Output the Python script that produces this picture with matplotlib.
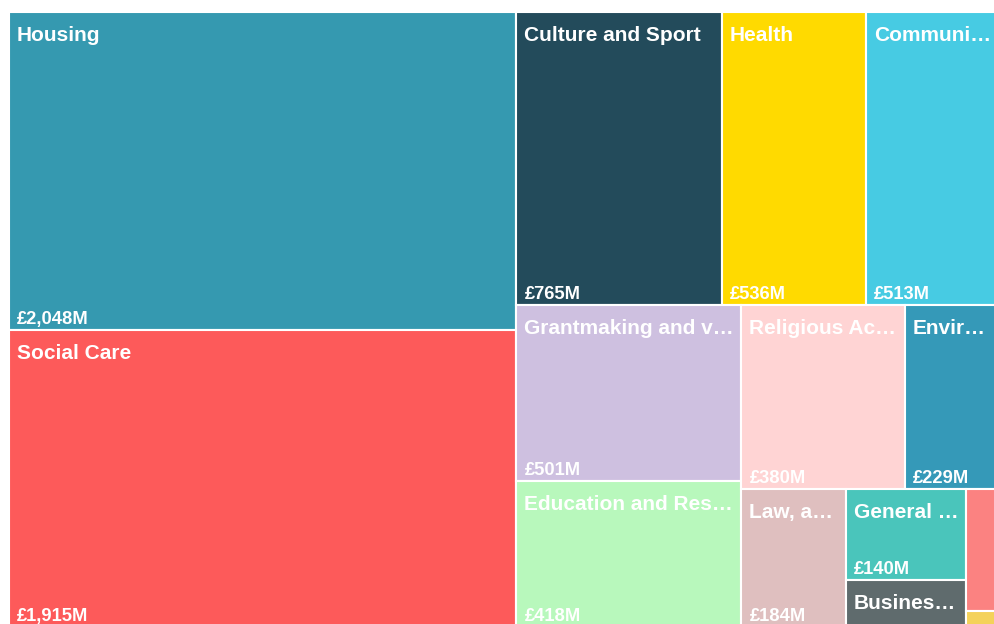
import matplotlib
matplotlib.use("Agg")
import matplotlib.pyplot as plt
from matplotlib.patches import Rectangle

# spend per category, £M (largest first, as in the treemap)
categories = ["Housing", "Social Care", "Culture and Sport", "Health", "Communi\u2026",
              "Grantmaking and v\u2026", "Education and Res\u2026", "Religious Ac\u2026",
              "Envir\u2026", "Law, a\u2026", "General \u2026", "Busines\u2026",
              "International", "Other"]
spend = [2048, 1915, 765, 536, 513, 501, 418, 380, 229, 184, 140, 72, 58, 8]
value_labels = ["\u00a3{:,}M".format(v) for v in spend]
colors = ["#3599B0", "#FD5A5A", "#234B5B", "#FFDA00", "#47CBE3", "#CEC0E0",
          "#B8F8BC", "#FFD4D4", "#3599B8", "#DFBFBF", "#4AC5BB", "#5F6B6D",
          "#FB8281", "#F4D25A"]


def squarify(values, x0, y0, x1, y1, ratio=1.4):
    # squarified layout (d3 style), values sorted descending
    rects = []
    n = len(values)
    total = float(sum(values))
    i0 = i1 = 0
    while i0 < n:
        dx, dy = x1 - x0, y1 - y0
        s = values[i1]
        i1 += 1
        vmin = vmax = s
        alpha = max(dy / dx, dx / dy) / (total * ratio)
        beta = s * s * alpha
        best = max(vmax / beta, beta / vmin)
        while i1 < n:
            v = values[i1]
            s2 = s + v
            mn, mx = min(vmin, v), max(vmax, v)
            beta = s2 * s2 * alpha
            r = max(mx / beta, beta / mn)
            if r > best:
                break
            s, vmin, vmax, best = s2, mn, mx, r
            i1 += 1
        row = values[i0:i1]
        if dx < dy:
            h = dy * s / total
            xx = x0
            for v in row:
                w = dx * v / s
                rects.append((xx, y0, w, h))
                xx += w
            y0 += h
        else:
            w = dx * s / total
            yy = y0
            for v in row:
                hh = dy * v / s
                rects.append((x0, yy, w, hh))
                yy += hh
            x0 += w
        total -= s
        i0 = i1
    return rects


W, H = 994.6, 615.4
fig = plt.figure(figsize=(9.94, 6.24), dpi=100)
ax = fig.add_axes([9 / 994, (624 - 627.4) / 624, W / 994, H / 624])
ax.set_xlim(0, W)
ax.set_ylim(H, 0)
ax.axis("off")

rects = squarify(spend, 0, 0, W, H)
for (x, y, w, h), name, lab, col in zip(rects, categories, value_labels, colors):
    ax.add_patch(Rectangle((x, y), w, h, facecolor=col, edgecolor="white", linewidth=1.5))
    if w < 45:
        continue
    ax.text(x + 8, y + 29, name, color="white", fontsize=15, fontweight="bold",
            family="Liberation Sans", va="baseline", ha="left")
    if h > 60:
        ax.text(x + 8, y + h - 6, lab, color="white", fontsize=13.2, fontweight="bold",
                family="Liberation Sans", va="baseline", ha="left")

fig.savefig("out.png", dpi=100)
